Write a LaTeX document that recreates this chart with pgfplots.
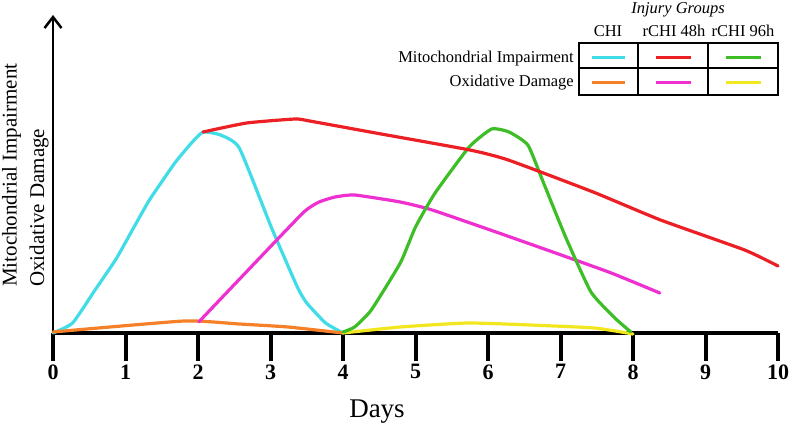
\documentclass[border=0pt]{standalone}
\usepackage{fontspec}
\setmainfont{Liberation Serif}
\usepackage{pgfplots}
\pgfplotsset{compat=1.18}
\usetikzlibrary{arrows.meta}
\definecolor{cCHI}{RGB}{64,220,232}
\definecolor{cRed}{RGB}{236,32,36}
\definecolor{cGreen}{RGB}{62,190,38}
\definecolor{cOrange}{RGB}{245,128,40}
\definecolor{cMag}{RGB}{238,48,208}
\definecolor{cYel}{RGB}{242,230,30}
\begin{document}
\begin{tikzpicture}
\begin{axis}[
  at={(0,0)}, anchor=south west,
  x=72.5bp, y=1bp,
  xmin=0, xmax=10, ymin=0, ymax=318,
  axis x line=bottom, axis y line=left,
  x axis line style={-, line width=4bp},
  y axis line style={-{Straight Barb[length=11bp,width=17bp]}, line width=2.5bp},
  xtick={0,...,10}, ytick=\empty,
  xtick align=outside,
  major tick length=28bp,
  xtick style={line width=4bp, black},
  xticklabel style={font=\fontsize{22bp}{24bp}\selectfont\bfseries},
  /pgf/number format/assume math mode=true,
  clip=false,
  every axis plot/.append style={line width=3.2bp, line join=round, line cap=round, smooth, tension=0.3},
]
% CHI - Mitochondrial impairment
\addplot[cCHI] coordinates {(0,0) (0.27,10) (0.58,43) (0.87,74) (1.11,105) (1.33,133) (1.68,170) (1.91,190) (2.07,201) (2.31,198) (2.57,185) (3.01,106) (3.37,46) (3.5,30) (3.76,10) (4,0)};
% CHI - Oxidative damage
\addplot[cOrange] coordinates {(0,1) (1.81,12) (2.57,9) (3.24,6) (4,0)};
% rCHI 48h - Oxidative damage
\addplot[cMag] coordinates {(2.01,11) (2.85,75) (3.46,121) (3.67,131) (3.89,136) (4.16,138) (4.79,131) (5.23,123) (6.15,100) (7.01,78) (7.70,60) (8.37,40)};
% rCHI 96h - Oxidative damage
\addplot[cYel] coordinates {(4,0) (4.79,6) (5.72,10) (6.58,8) (7.47,5) (8,-1)};
% rCHI 96h - Mitochondrial impairment
\addplot[cGreen] coordinates {(4,1) (4.16,6) (4.39,23) (4.79,70) (5.0,106) (5.27,140) (5.74,186) (6.05,204) (6.29,201) (6.55,188) (6.75,153) (7.07,96) (7.42,41) (7.75,15) (7.97,1)};
% rCHI 48h - Mitochondrial impairment
\addplot[cRed] coordinates {(2.07,201) (2.67,210) (3.34,214) (3.54,212) (4.45,200) (5.75,183) (6.28,173) (7.45,141) (8.38,113) (9.54,83) (10,67)};
\end{axis}
% axis titles
\node[rotate=90, anchor=base west, inner sep=0pt, font=\fontsize{21bp}{24bp}\selectfont] at (-36.3bp,46bp) {Mitochondrial Impairment};
\node[rotate=90, anchor=base west, inner sep=0pt, font=\fontsize{21bp}{24bp}\selectfont] at (-9bp,46bp) {Oxidative Damage};
\node[anchor=base, inner sep=0pt, font=\fontsize{27bp}{30bp}\selectfont] at (324bp,-84bp) {Days};
% legend table
\begin{scope}[font=\fontsize{16.5bp}{19bp}\selectfont]
\draw[line width=1.4bp] (526bp,238bp) rectangle (725bp,290bp);
\draw[line width=1.2bp] (526bp,265bp) -- (725bp,265bp);
\draw[line width=1.2bp] (585bp,238bp) -- (585bp,290bp);
\draw[line width=1.2bp] (655bp,238bp) -- (655bp,290bp);
\draw[cCHI, line width=3bp] (539bp,275.7bp) -- (572bp,275.7bp);
\draw[cRed, line width=3bp] (603bp,275.7bp) -- (638bp,275.7bp);
\draw[cGreen, line width=3bp] (673bp,275.7bp) -- (708bp,275.7bp);
\draw[cOrange, line width=3bp] (539bp,250.3bp) -- (572bp,250.3bp);
\draw[cMag, line width=3bp] (603bp,250.3bp) -- (638bp,250.3bp);
\draw[cYel, line width=3bp] (673bp,250.3bp) -- (708bp,250.3bp);
\node[anchor=base, inner sep=0pt] at (625bp,319bp) {\itshape Injury Groups};
\node[anchor=base, inner sep=0pt] at (555bp,296bp) {CHI};
\node[anchor=base, inner sep=0pt] at (621bp,296bp) {rCHI 48h};
\node[anchor=base, inner sep=0pt] at (690bp,296bp) {rCHI 96h};
\node[anchor=base east, inner sep=0pt] at (521bp,270bp) {Mitochondrial Impairment};
\node[anchor=base east, inner sep=0pt] at (521bp,246bp) {Oxidative Damage};
\end{scope}
\pgfresetboundingbox
\path (-53bp,-93bp) rectangle (739bp,333bp);
\end{tikzpicture}
\end{document}
